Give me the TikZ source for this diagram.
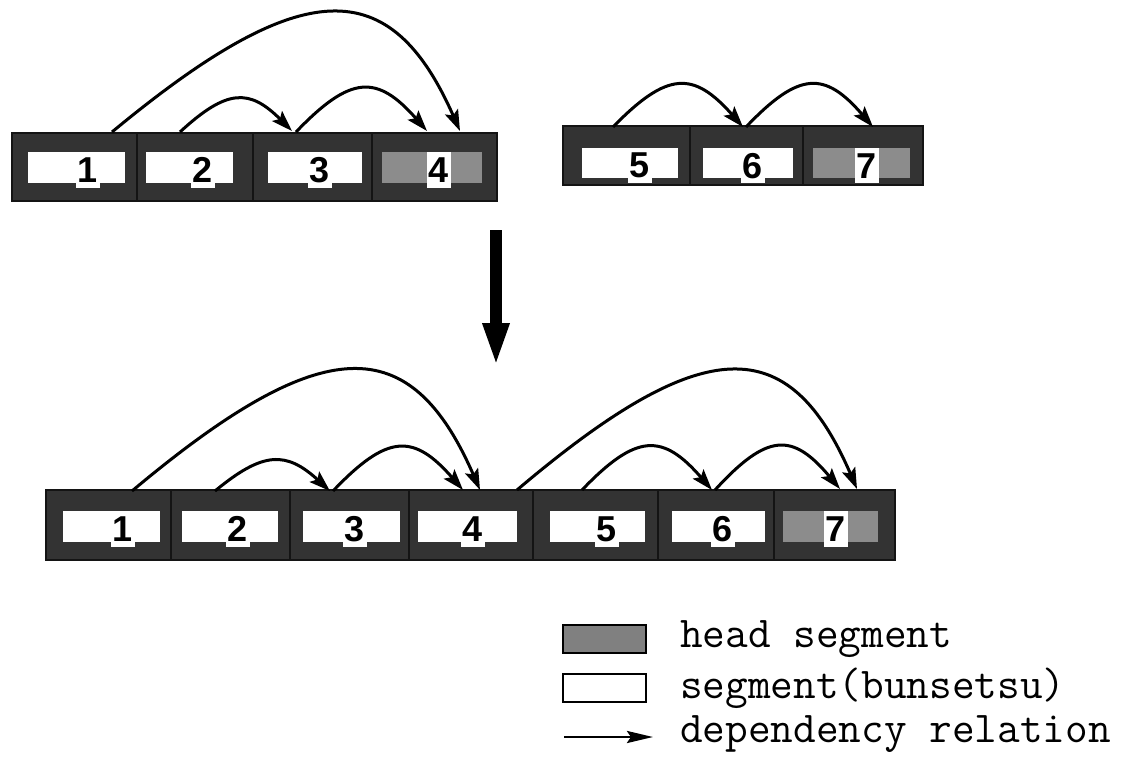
\documentclass[tikz,border=0pt]{standalone}
\usepackage{fontspec}
\newfontfamily\digfont{Liberation Sans}
\usetikzlibrary{arrows.meta,calc}
\newcommand\deparc[5]{\draw[dep] (#1) .. controls ($(#1)!#4!(#2)+(0,-#3)$) and ($(#1)!#5!(#2)+(0,-#3)$) .. (#2);}
\begin{document}
\begin{tikzpicture}[x=1pt,y=-1pt,
  frame/.style={draw=black!92,line width=1.6pt,fill=black!80,inner sep=0pt,minimum height=#1},
  seg/.style={fill=white,inner sep=0pt,minimum height=#1},
  headseg/.style={fill=black!45,inner sep=0pt,minimum height=#1},
  dig/.style={fill=white,inner sep=0pt,minimum width=24pt,minimum height=#1,anchor=north,
    font=\digfont\bfseries\fontsize{36}{36}\selectfont},
  dep/.style={line width=3pt,-{Stealth[length=21pt,width=14pt,inset=4pt]}},
  leg/.style={anchor=base west,inner sep=0pt,font=\ttfamily\fontsize{44}{44}\selectfont},
  legbox/.style={draw=black,line width=2.8pt,minimum width=83pt,minimum height=28pt,inner sep=0pt}
]
\useasboundingbox (0,0) rectangle (1128,757);

% ---------- top-left phrase ----------
\node[frame=68pt,minimum width=125pt] (fa1) at (74.5,167) {};
\node[frame=68pt,minimum width=116pt] (fa2) at (195,167) {};
\node[frame=68pt,minimum width=119pt] (fa3) at (312.5,167) {};
\node[frame=68pt,minimum width=125pt] (fa4) at (434.5,167) {};
\node[seg=31pt,minimum width=97pt] (sa1) at (76.5,167.5) {};
\node[seg=31pt,minimum width=87pt] (sa2) at (189.5,167.5) {};
\node[seg=31pt,minimum width=94pt] (sa3) at (315,167.5) {};
\node[headseg=31pt,minimum width=100pt] (sa4) at (432,167.5) {};
\node[dig=36pt] (da1) at (88,152) {1};
\node[dig=36pt] (da2) at (203,152) {2};
\node[dig=36pt] (da3) at (320,152) {3};
\node[dig=36pt] (da4) at (439,152) {4};

% ---------- top-right phrase ----------
\node[frame=59pt,minimum width=127pt] (fb5) at (626.5,155.5) {};
\node[frame=59pt,minimum width=113pt] (fb6) at (746.5,155.5) {};
\node[frame=59pt,minimum width=120pt] (fb7) at (863,155.5) {};
\node[seg=30pt,minimum width=96pt] (sb5) at (630,163) {};
\node[seg=30pt,minimum width=90pt] (sb6) at (748,163) {};
\node[headseg=30pt,minimum width=97pt] (sb7) at (861.5,163) {};
\node[dig=35pt] (db5) at (640,148) {5};
\node[dig=35pt] (db6) at (753,148) {6};
\node[dig=35pt] (db7) at (867,148) {7};

% ---------- bottom sentence ----------
\node[frame=70pt,minimum width=125pt] (fc1) at (108.5,525) {};
\node[frame=70pt,minimum width=119pt] (fc2) at (230.5,525) {};
\node[frame=70pt,minimum width=119pt] (fc3) at (349.5,525) {};
\node[frame=70pt,minimum width=124pt] (fc4) at (471,525) {};
\node[frame=70pt,minimum width=125pt] (fc5) at (595.5,525) {};
\node[frame=70pt,minimum width=116pt] (fc6) at (716,525) {};
\node[frame=70pt,minimum width=121pt] (fc7) at (834.5,525) {};
\node[seg=31pt,minimum width=97pt] (sc1) at (111.5,526.5) {};
\node[seg=31pt,minimum width=96pt] (sc2) at (230,526.5) {};
\node[seg=31pt,minimum width=97pt] (sc3) at (351.5,526.5) {};
\node[seg=31pt,minimum width=99pt] (sc4) at (467.5,526.5) {};
\node[seg=31pt,minimum width=95pt] (sc5) at (597.5,526.5) {};
\node[seg=31pt,minimum width=93pt] (sc6) at (718.5,526.5) {};
\node[headseg=31pt,minimum width=95pt] (sc7) at (830.5,526.5) {};
\node[dig=36pt] (dc1) at (123,511) {1};
\node[dig=36pt] (dc2) at (238,511) {2};
\node[dig=36pt] (dc3) at (355,511) {3};
\node[dig=36pt] (dc4) at (473,511) {4};
\node[dig=36pt] (dc5) at (607,511) {5};
\node[dig=36pt] (dc6) at (723,511) {6};
\node[dig=36pt] (dc7) at (836,511) {7};

% ---------- arc end points ----------
\coordinate (pa1) at (112,132);
\coordinate (pa2) at (180,132);
\coordinate (pa3) at (292,131);
\coordinate (pa3s) at (296,132);
\coordinate (pa4a) at (427,131);
\coordinate (pa4b) at (460,131);
\coordinate (pb5) at (613,127);
\coordinate (pb6) at (743,127);
\coordinate (pb6s) at (746,127);
\coordinate (pb7) at (873,127);
\coordinate (pc1) at (132,491);
\coordinate (pc2) at (215,491);
\coordinate (pc3) at (330,491);
\coordinate (pc3s) at (333,491);
\coordinate (pc4a) at (463,490);
\coordinate (pc4b) at (480,490);
\coordinate (pc4s) at (517,490);
\coordinate (pc5) at (582,490);
\coordinate (pc6) at (712,490);
\coordinate (pc6s) at (715,490);
\coordinate (pc7a) at (840,489);
\coordinate (pc7b) at (857,489);

% ---------- dependency arcs ----------
\deparc{pa1}{pa4b}{158}{0.55}{0.8}
\deparc{pa2}{pa3}{43}{0.42}{0.62}
\deparc{pa3s}{pa4a}{57}{0.42}{0.62}
\deparc{pb5}{pb6}{56}{0.42}{0.62}
\deparc{pb6s}{pb7}{56}{0.42}{0.62}
\deparc{pc1}{pc4b}{160}{0.55}{0.8}
\deparc{pc2}{pc3}{40}{0.42}{0.62}
\deparc{pc3s}{pc4a}{57}{0.42}{0.62}
\deparc{pc4s}{pc7b}{158}{0.55}{0.8}
\deparc{pc5}{pc6}{57}{0.42}{0.62}
\deparc{pc6s}{pc7a}{57}{0.42}{0.62}

% ---------- big transition arrow ----------
\coordinate (bigA) at (496,230);
\coordinate (bigB) at (496,367);
\draw[line width=12pt,-{Triangle[length=44pt,width=24pt]}] (bigA) -- (bigB);

% ---------- legend ----------
\node[legbox,fill=black!50] (lghead) at (604.5,639) {};
\node[legbox,fill=white] (lgseg) at (604.5,688) {};
\coordinate (lgA) at (564,737);
\coordinate (lgB) at (653,737);
\draw[line width=2.9pt,-{Stealth[length=26pt,width=12pt,inset=4pt]}] (lgA) -- (lgB);
\node[leg] (tx1) at (680,647) {head segment};
\node[leg] (tx2) at (680,698) {segment(bunsetsu)};
\node[leg] (tx3) at (680,742) {dependency relation};
\end{tikzpicture}
\end{document}
